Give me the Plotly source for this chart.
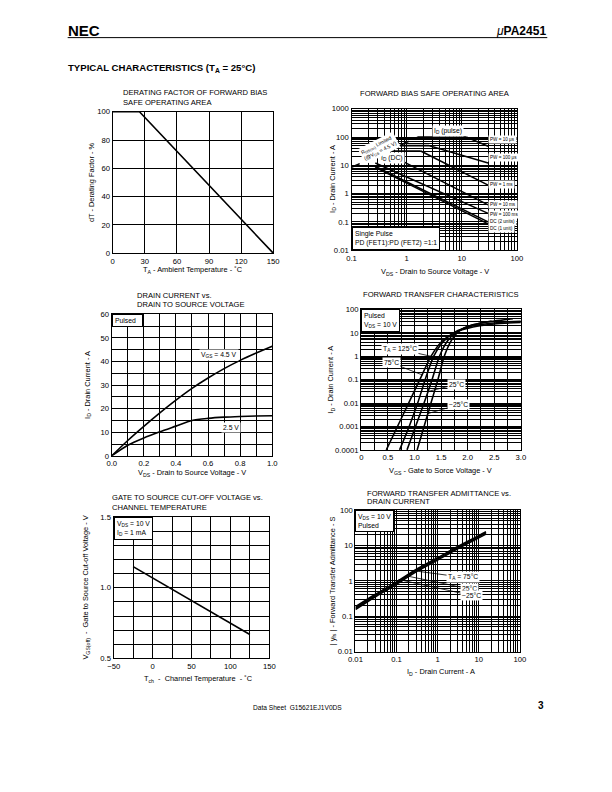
import plotly.graph_objects as go

W, H = 612, 792
def px(x):
    return x / W
def py(y):
    return 1 - y / H

FONT = "Liberation Sans, Arial, sans-serif"

# ---------------- data ----------------
# 1. Derating factor of FBSOA
derate_ta = [0, 25, 150]
derate_pct = [100, 100, 0]

# 2. Forward bias safe operating area (VDS [V], ID [A])
soa_rds_v = [0.1, 1.6]
soa_rds_i = [8.5, 100]
soa_idpulse_v = [1.6, 12]
soa_idpulse_i = [100, 100]
soa_pw10us_v = [12, 30]
soa_pw10us_i = [100, 47]
soa_pw100us_v = [0.75, 2.5, 30]
soa_pw100us_i = [50, 50, 12]
soa_iddc_v = [0.45, 1.8]
soa_iddc_i = [32, 32]
soa_pw1ms_v = [1.8, 30]
soa_pw1ms_i = [32, 2.0]
soa_pw10ms_v = [0.45, 30]
soa_pw10ms_i = [26, 0.4]
soa_pw100ms_v = [0.27, 30]
soa_pw100ms_i = [12, 0.2]
soa_dc2_v = [0.26, 30]
soa_dc2_i = [9.5, 0.1]
soa_dc1_v = [0.27, 30]
soa_dc1_i = [8.5, 0.085]

# 3. Drain current vs drain to source voltage
vds3 = [0.0, 0.1, 0.2, 0.3, 0.4, 0.5, 0.6, 0.7, 0.8, 0.9, 1.0]
id_vgs45 = [0, 6.5, 12.5, 18.2, 23.6, 28.6, 33.0, 37.0, 40.5, 43.6, 46.5]
id_vgs25 = [0, 4.5, 7.6, 10.2, 12.6, 15.0, 15.9, 16.4, 16.7, 16.9, 17.0]

# 4. Forward transfer characteristics (VGS [V], ID [A])
vgs_125 = [0.47, 0.68, 0.89, 1.10, 1.31, 1.50, 1.75, 2.1, 2.5, 3.0]
id_125 = [1e-4, 1e-3, 1e-2, 0.1, 1.0, 4.0, 10, 17.8, 24, 28]
vgs_75 = [0.72, 0.90, 1.06, 1.20, 1.36, 1.53, 1.75, 2.1, 2.6, 3.0]
id_75 = [1e-4, 1e-3, 1e-2, 0.1, 1.0, 4.0, 10.5, 20, 28, 31]
vgs_25 = [0.86, 1.02, 1.18, 1.33, 1.47, 1.62, 1.80, 2.1, 2.5, 2.85]
id_25 = [1e-4, 1e-3, 1e-2, 0.1, 1.0, 4.5, 11, 22, 32, 40]
vgs_m25 = [1.05, 1.18, 1.31, 1.44, 1.56, 1.70, 1.85, 2.1, 2.45]
id_m25 = [1e-4, 1e-3, 1e-2, 0.1, 1.0, 5.0, 12.5, 22, 32]

# 5. Gate to source cut-off voltage vs channel temperature
tch5 = [-25, 125]
vgsoff5 = [1.15, 0.67]

# 6. Forward transfer admittance vs drain current (ID [A], |yfs| [S])
id6 = [0.01, 0.03, 0.1, 0.3, 1, 3, 10, 15]
yfs_75 = [0.155, 0.35, 0.80, 1.8, 3.9, 8.0, 16.5, 21]
yfs_25 = [0.17, 0.38, 0.87, 1.95, 4.2, 8.6, 18, 23]
yfs_m25 = [0.185, 0.41, 0.94, 2.1, 4.5, 9.2, 19, 24.5]

# ---------------- helpers ----------------
boxes = {
    1: (108, 272, 109, 252),
    2: (352, 521, 106, 249),
    3: (107, 271, 314, 457),
    4: (362, 525, 309, 451),
    5: (109, 268, 519, 662),
    6: (356, 524, 512, 655),
}

def decade_minor(lo, hi):
    vals = []
    for k in range(lo, hi):
        for m in range(2, 10):
            vals.append(m * 10 ** k)
    return vals

TICK = 7.7
layout = dict(
    width=W, height=H, margin=dict(l=0, r=0, t=0, b=0),
    paper_bgcolor="white", plot_bgcolor="white", showlegend=False,
    font=dict(family=FONT, size=TICK, color="black"),
)

def axis_common():
    return dict(showline=True, mirror=True, linecolor="black", linewidth=1.3,
                gridcolor="black", gridwidth=1, showgrid=True, zeroline=False,
                ticks="", tickfont=dict(family=FONT, size=TICK, color="black"),
                fixedrange=True)

def lin_minor(d):
    return dict(dtick=d, tick0=0, showgrid=True, gridcolor="black", gridwidth=1, ticks="")

def log_minor(lo, hi):
    return dict(tickvals=decade_minor(lo, hi), showgrid=True, gridcolor="black", gridwidth=1, ticks="")

def set_axes(k, xa, ya):
    l, r, t, b = boxes[k]
    xa.update(domain=[px(l), px(r)], anchor="y%d" % k)
    ya.update(domain=[py(b), py(t)], anchor="x%d" % k)
    layout["xaxis%d" % k] = xa
    layout["yaxis%d" % k] = ya

# chart 1
xa = axis_common(); ya = axis_common()
xa.update(range=[0, 150], tickvals=[0, 30, 60, 90, 120, 150])
ya.update(range=[0, 100], tickvals=[0, 20, 40, 60, 80, 100])
set_axes(1, xa, ya)

# chart 2
xa = axis_common(); ya = axis_common()
xa.update(type="log", range=[-1, 2], tickvals=[0.1, 1, 10, 100], ticktext=["0.1", "1", "10", "100"],
          minor=log_minor(-1, 2))
ya.update(type="log", range=[-2, 3], tickvals=[0.01, 0.1, 1, 10, 100, 1000],
          ticktext=["0.01", "0.1", "1", "10", "100", "1000"], minor=log_minor(-2, 3))
set_axes(2, xa, ya)

# chart 3
xa = axis_common(); ya = axis_common()
xa.update(range=[0, 1.0], tickvals=[0, 0.2, 0.4, 0.6, 0.8, 1.0],
          ticktext=["0.0", "0.2", "0.4", "0.6", "0.8", "1.0"], minor=lin_minor(0.1))
ya.update(range=[0, 60], tickvals=[0, 10, 20, 30, 40, 50, 60], minor=lin_minor(5))
set_axes(3, xa, ya)

# chart 4
xa = axis_common(); ya = axis_common()
xa.update(range=[0, 3.0], tickvals=[0, 0.5, 1.0, 1.5, 2.0, 2.5, 3.0],
          ticktext=["0", "0.5", "1.0", "1.5", "2.0", "2.5", "3.0"], minor=lin_minor(0.25))
ya.update(type="log", range=[-4, 2], tickvals=[1e-4, 1e-3, 1e-2, 0.1, 1, 10, 100],
          ticktext=["0.0001", "0.001", "0.01", "0.1", "1", "10", "100"], minor=log_minor(-4, 2))
set_axes(4, xa, ya)

# chart 5
xa = axis_common(); ya = axis_common()
xa.update(range=[-50, 150], tickvals=[-50, 0, 50, 100, 150],
          ticktext=["\u221250", "0", "50", "100", "150"], minor=lin_minor(25))
ya.update(range=[0.5, 1.5], tickvals=[0.5, 1.0, 1.5], ticktext=["0.5", "1.0", "1.5"], minor=lin_minor(0.1))
set_axes(5, xa, ya)

# chart 6
xa = axis_common(); ya = axis_common()
xa.update(type="log", range=[-2, 2], tickvals=[0.01, 0.1, 1, 10, 100], ticktext=["0.01", "0.1", "1", "10", "100"],
          minor=log_minor(-2, 2))
ya.update(type="log", range=[-2, 2], tickvals=[0.01, 0.1, 1, 10, 100], ticktext=["0.01", "0.1", "1", "10", "100"],
          minor=log_minor(-2, 2))
set_axes(6, xa, ya)

fig = go.Figure()

def line(k, x, y, width=1.6, dash="solid", spline=False):
    ln = dict(color="black", width=width, dash=dash)
    if spline:
        ln.update(shape="spline", smoothing=0.7)
    fig.add_trace(go.Scatter(x=x, y=y, xaxis="x%d" % k, yaxis="y%d" % k, mode="lines",
                             line=ln, hoverinfo="skip"))

line(1, derate_ta, derate_pct)

line(2, soa_rds_v, soa_rds_i, 1.6, "dash")
for vv, ii in [(soa_idpulse_v, soa_idpulse_i), (soa_pw10us_v, soa_pw10us_i), (soa_pw100us_v, soa_pw100us_i),
               (soa_iddc_v, soa_iddc_i), (soa_pw1ms_v, soa_pw1ms_i), (soa_pw10ms_v, soa_pw10ms_i),
               (soa_pw100ms_v, soa_pw100ms_i), (soa_dc2_v, soa_dc2_i), (soa_dc1_v, soa_dc1_i)]:
    line(2, vv, ii, 1.6)

line(3, vds3, id_vgs45, spline=True)
line(3, vds3, id_vgs25, spline=True)

for vv, ii in [(vgs_125, id_125), (vgs_75, id_75), (vgs_25, id_25), (vgs_m25, id_m25)]:
    line(4, vv, ii, 1.6, spline=True)

line(5, tch5, vgsoff5)

for yy in [yfs_75, yfs_25, yfs_m25]:
    line(6, id6, yy, 1.6, spline=True)

fig.update_layout(**layout)

ann = []
def text(x, y, s, size=7, xanchor="left", yanchor="middle", bold=False, angle=0):
    ann.append(dict(x=px(x), y=py(y), xref="paper", yref="paper", text=("<b>%s</b>" % s) if bold else s,
                    showarrow=False, xanchor=xanchor, yanchor=yanchor, textangle=angle,
                    font=dict(family=FONT, size=size, color="black")))

TS = 7.6   # chart title size
AS = 7.4   # axis title size

# header / footer
text(60, 27, "NEC", 15, bold=True)
text(553, 27, "<i>\u03bc</i><b>PA2451</b>", 12, xanchor="right")
text(60, 65, "TYPICAL CHARACTERISTICS (T<sub>A</sub> = 25\u00b0C)", 9.6, bold=True)
text(297, 712, "Data Sheet  G15621EJ1V0DS", 6.6, xanchor="center")
text(551, 710, "3", 10, xanchor="right", bold=True)

# chart titles
text(116, 90, "DERATING FACTOR OF FORWARD BIAS", TS)
text(116, 100, "SAFE OPERATING AREA", TS)
text(437, 91, "FORWARD BIAS SAFE OPERATING AREA", TS, xanchor="center")
text(131, 295, "DRAIN CURRENT vs.", TS)
text(131, 304, "DRAIN TO SOURCE VOLTAGE", TS)
text(443, 294, "FORWARD TRANSFER CHARACTERISTICS", TS, xanchor="center")
text(105, 499, "GATE TO SOURCE CUT-OFF VOLTAGE vs.", TS)
text(105, 509, "CHANNEL TEMPERATURE", TS)
text(366, 495, "FORWARD TRANSFER ADMITTANCE vs.", TS)
text(366, 503, "DRAIN CURRENT", TS)

# axis titles
text(190, 269, "T<sub>A</sub> - Ambient Temperature - \u02daC", AS, xanchor="center")
text(87, 180, "dT - Derating Factor - %", AS, xanchor="center", angle=-90)
text(437, 271, "V<sub>DS</sub> - Drain to Source Voltage - V", AS, xanchor="center")
text(333, 177, "I<sub>D</sub> - Drain Current - A", AS, xanchor="center", angle=-90)
text(189, 474, "V<sub>DS</sub> - Drain to Source Voltage - V", AS, xanchor="center")
text(82, 385, "I<sub>D</sub> - Drain Current - A", AS, xanchor="center", angle=-90)
text(443, 472, "V<sub>GS</sub> - Gate to Sorce Voltage - V", AS, xanchor="center")
text(331, 380, "I<sub>D</sub> - Drain Current - A", AS, xanchor="center", angle=-90)
text(196, 683, "T<sub>ch</sub>  -  Channel Temperature  - \u02daC", AS, xanchor="center")
text(81, 590, "V<sub>GS(off)</sub>  -  Gate to Source Cut-off Voltage - V", AS, xanchor="center", angle=-90)
text(443, 676, "I<sub>D</sub> - Drain Current - A", AS, xanchor="center")
text(333, 583, "| y<sub>fs</sub> | - Forward Transfer Admittance - S", AS, xanchor="center", angle=-90)

def boxlabel(k, x, y, s, size=6.5, xanchor="left", yanchor="top", angle=0):
    ann.append(dict(x=x, y=y, xref="x%d" % k, yref="y%d" % k, text=s, showarrow=False,
                    xanchor=xanchor, yanchor=yanchor, align="left", bgcolor="white",
                    borderpad=1, textangle=angle, font=dict(family=FONT, size=size, color="black")))

def domlabel(k, x, y, s, size=6.5):
    ann.append(dict(x=x, y=y, xref="x%d domain" % k, yref="y%d domain" % k, text=s, showarrow=False,
                    xanchor="left", yanchor=("top" if y > 0.5 else "bottom"), align="left", bgcolor="white",
                    bordercolor="black", borderwidth=1, borderpad=2,
                    font=dict(family=FONT, size=size, color="black")))

LS = 6.8
# chart 2 labels (log axes -> log10 coordinates)
boxlabel(2, 0.757, 2.22, "I<sub>D</sub> (pulse)", LS, "center", "middle")
boxlabel(2, -0.27, 1.25, "I<sub>D</sub> (DC)", LS, "center", "middle")
boxlabel(2, -0.5, 1.62, "R<sub>DS(on)</sub> Limited<br>(@V<sub>GS</sub> = 4.5 V)", 5.2, "center", "middle", angle=-27)
for lab, yv in [("PW = 10 \u03bcs", 1.9), ("PW = 100 \u03bcs", 1.28), ("PW = 1 ms", 0.31),
                ("PW = 10 ms", -0.39), ("PW = 100 ms", -0.74), ("DC (2 units)", -0.98), ("DC (1 unit)", -1.23)]:
    boxlabel(2, 1.47, yv, lab, 4.6, "left", "middle")
domlabel(2, 0.0, 0.0, "Single Pulse<br>PD (FET1):PD (FET2) =1:1", LS)

# chart 3
domlabel(3, 0.0, 1.0, "Pulsed  ", LS)
boxlabel(3, 0.67, 42.8, "V<sub>GS</sub> = 4.5 V", LS, "center", "middle")
boxlabel(3, 0.74, 12.2, "2.5 V", LS, "center", "middle")

# chart 4
domlabel(4, 0.0, 1.0, "Pulsed<br>V<sub>DS</sub> = 10 V", LS)
for lab, xv, yv, axo, ayo in [("T<sub>A</sub> = 125\u00b0C", 1.31, 0.0, -31, -7),
                              ("75\u00b0C", 1.15, -0.8, -31, -12),
                              ("25\u00b0C", 1.26, -1.5, 28, -7),
                              ("\u221225\u00b0C", 1.25, -2.45, 31, -9)]:
    ann.append(dict(x=xv, y=yv, xref="x4", yref="y4", text=lab, showarrow=True, arrowhead=0,
                    arrowwidth=0.8, arrowcolor="black", ax=axo, ay=ayo, bgcolor="white", borderpad=1,
                    font=dict(family=FONT, size=LS, color="black")))

# chart 5
domlabel(5, 0.0, 1.0, "V<sub>DS</sub> = 10 V<br>I<sub>D</sub> = 1 mA", LS)

# chart 6
domlabel(6, 0.0, 1.0, "V<sub>DS</sub> = 10 V<br>Pulsed", LS)
for lab, xv, yv, axo, ayo in [("T<sub>A</sub> = 75\u00b0C", -0.476, 0.27, 45, 6),
                              ("25\u00b0C", -0.755, 0.14, 63, 13),
                              ("\u221225\u00b0C", -0.952, 0.04, 73, 16)]:
    ann.append(dict(x=xv, y=yv, xref="x6", yref="y6", text=lab, showarrow=True, arrowhead=0,
                    arrowwidth=0.8, arrowcolor="black", ax=axo, ay=ayo, bgcolor="white", borderpad=1,
                    font=dict(family=FONT, size=LS, color="black")))

fig.update_layout(annotations=ann,
                  shapes=[dict(type="line", xref="paper", yref="paper", x0=px(62), x1=px(552),
                               y0=py(34), y1=py(34), line=dict(color="black", width=1))])

fig.write_html("out.html")
